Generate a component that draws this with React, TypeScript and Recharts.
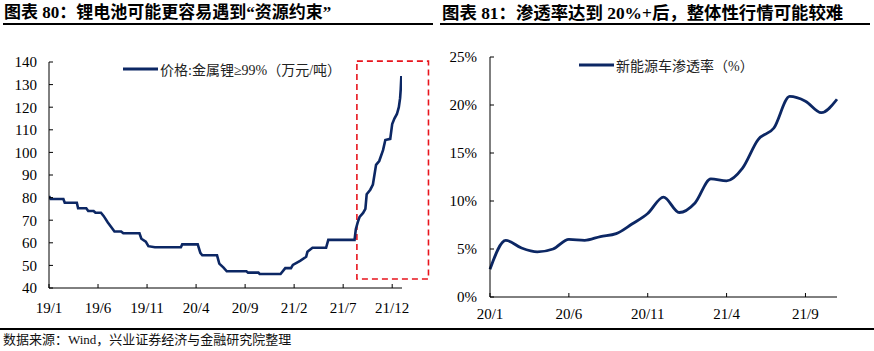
import React from 'react';
import { LineChart, Line, XAxis, YAxis, ReferenceArea } from 'recharts';

// ---------- Chart 80: lithium metal price (万元/吨) ----------
const priceDates = [
  '2019-01-01', '2019-01-06', '2019-02-14', '2019-02-18', '2019-03-27', '2019-03-31',
  '2019-04-25', '2019-05-01', '2019-05-18', '2019-05-24', '2019-06-10', '2019-06-18',
  '2019-07-01', '2019-07-22', '2019-08-12', '2019-08-19', '2019-10-08', '2019-10-14',
  '2019-10-28', '2019-11-05', '2019-11-25', '2020-02-14', '2020-02-18', '2020-04-06',
  '2020-04-14', '2020-04-20', '2020-06-05', '2020-06-12', '2020-06-25', '2020-07-05',
  '2020-09-05', '2020-09-10', '2020-10-12', '2020-10-16', '2020-12-20', '2021-01-04',
  '2021-01-22', '2021-01-28', '2021-02-18', '2021-03-08', '2021-03-12', '2021-03-28',
  '2021-05-09', '2021-05-16', '2021-08-06', '2021-08-10', '2021-08-16', '2021-08-22',
  '2021-09-02', '2021-09-09', '2021-09-13', '2021-09-24', '2021-10-02', '2021-10-12',
  '2021-10-22', '2021-11-03', '2021-11-10', '2021-11-25', '2021-12-01', '2021-12-08',
  '2021-12-16', '2021-12-22', '2021-12-26', '2021-12-28', '2021-12-30',
];
const priceValues = [
  80.7, 79.4, 79.4, 77.7, 77.7, 75.3,
  75.3, 74.1, 74.1, 73.3, 73.3, 71.9,
  69.0, 65.0, 65.0, 64.2, 64.2, 61.8,
  60.5, 58.5, 58.0, 58.0, 59.3, 59.3,
  55.5, 54.5, 54.5, 50.8, 49.0, 47.4,
  47.4, 46.8, 46.8, 46.2, 46.2, 48.8,
  48.8, 50.2, 52.0, 53.8, 56.0, 57.8,
  57.8, 61.3, 61.3, 66.0, 69.0, 71.5,
  73.2, 75.0, 81.5, 83.5, 85.8, 94.5,
  96.2, 101.0, 105.5, 106.0, 112.5, 115.0,
  117.0, 120.0, 124.0, 128.0, 133.8,
];
const priceTickLabels = ['19/1', '19/6', '19/11', '20/4', '20/9', '21/2', '21/7', '21/12'];
const priceYTicks = [40, 50, 60, 70, 80, 90, 100, 110, 120, 130, 140];
const priceLegend = '价格:金属锂≥99%（万元/吨）';

// ---------- Chart 81: NEV penetration (%) ----------
const penetrationMonths = [
  '20/1', '20/2', '20/3', '20/4', '20/5', '20/6', '20/7', '20/8', '20/9', '20/10', '20/11', '20/12',
  '21/1', '21/2', '21/3', '21/4', '21/5', '21/6', '21/7', '21/8', '21/9', '21/10', '21/11',
];
const penetrationValues = [
  2.9, 5.9, 5.1, 4.7, 5.0, 6.0, 5.9, 6.3, 6.6, 7.6, 8.7, 10.4,
  8.8, 9.8, 12.3, 12.1, 13.4, 16.4, 17.6, 20.9, 20.4, 19.2, 20.6,
];
const penetrationYTicks = [0, 5, 10, 15, 20, 25];
const penetrationLegend = '新能源车渗透率（%）';

const title80 = '图表 80：锂电池可能更容易遇到“资源约束”';
const title81 = '图表 81：渗透率达到 20%+后，整体性行情可能较难';
const sourceText = '数据来源：Wind，兴业证券经济与金融研究院整理';

const toMonthOffset = (s: string) => {
  const [y, m, d] = s.split('-').map(Number);
  const dim = new Date(y, m, 0).getDate();
  return (y - 2019) * 12 + (m - 1) + (d - 1) / dim;
};

const priceData = priceDates.map((d, i) => ({ t: toMonthOffset(d), v: priceValues[i] }));
const priceXTicks = priceTickLabels.map((_, i) => i * 5);
const penetrationData = penetrationMonths.map((m, i) => ({ i, v: penetrationValues[i] }));
const penetrationXTicks = [0, 5, 10, 15, 20];

const NAVY = '#0c2764';
const serif = "'Liberation Serif', 'Times New Roman', serif";
const cjk = "'Liberation Serif', 'Noto Sans CJK SC', serif";
const tickStyle = { fill: '#000', fontSize: 15, fontFamily: serif };

const LegendBox = ({ left, top, text }: { left: number; top: number; text: string }) => (
  <div style={{ position: 'absolute', left, top, display: 'flex', alignItems: 'center', height: 18 }}>
    <svg width={35} height={6} style={{ display: 'block' }}>
      <line x1={0} y1={3} x2={35} y2={3} stroke={NAVY} strokeWidth={3} />
    </svg>
    <span style={{ fontFamily: cjk, fontSize: 14, color: '#222', marginLeft: 2, whiteSpace: 'nowrap' }}>{text}</span>
  </div>
);

export default function App() {
  return (
    <div style={{ position: 'absolute', left: 0, top: 0, width: 874, height: 351, background: '#fff', overflow: 'hidden' }}>
      {/* Titles */}
      <div style={{ position: 'absolute', left: 4, top: 3, fontFamily: cjk, fontWeight: 'bold', fontSize: 17, whiteSpace: 'nowrap', lineHeight: '20px' }}>{title80}</div>
      <div style={{ position: 'absolute', left: 442, top: 3, fontFamily: cjk, fontWeight: 'bold', fontSize: 17.4, whiteSpace: 'nowrap', lineHeight: '20px' }}>{title81}</div>
      <div style={{ position: 'absolute', left: 3, top: 23, width: 430, height: 2, background: '#000' }} />
      <div style={{ position: 'absolute', left: 440, top: 23, width: 430, height: 2, background: '#000' }} />

      {/* Left chart */}
      <div style={{ position: 'absolute', left: 0, top: 40 }}>
        <LineChart width={430} height={280} data={priceData} margin={{ top: 22, right: 28, bottom: 7, left: 9 }}>
          <XAxis
            dataKey="t"
            type="number"
            domain={[0, 36]}
            ticks={priceXTicks}
            tickFormatter={(v: number) => priceTickLabels[Math.round(v / 5)]}
            allowDataOverflow
            axisLine={{ stroke: '#000' }}
            tickLine={{ stroke: '#000' }}
            tickSize={-4}
            tickMargin={18}
            height={25}
            tick={tickStyle}
            interval={0}
          />
          <YAxis
            type="number"
            domain={[40, 140]}
            ticks={priceYTicks}
            axisLine={{ stroke: '#000' }}
            tickLine={{ stroke: '#000' }}
            tickSize={-4}
            tickMargin={16}
            width={40}
            tick={tickStyle}
            interval={0}
          />
          <ReferenceArea
            x1={31.4}
            x2={38.7}
            y1={44}
            y2={140.4}
            ifOverflow="visible"
            fill="none"
            stroke="#e8141c"
            strokeWidth={1.6}
            strokeDasharray="6 4"
          />
          <Line type="linear" dataKey="v" stroke={NAVY} strokeWidth={2.6} dot={false} isAnimationActive={false} />
        </LineChart>
      </div>
      <LegendBox left={123} top={60} text={priceLegend} />

      {/* Right chart */}
      <div style={{ position: 'absolute', left: 430, top: 40 }}>
        <LineChart width={444} height={290} data={penetrationData} margin={{ top: 17, right: 37, bottom: 8, left: 15 }}>
          <XAxis
            dataKey="i"
            type="number"
            domain={[0, 22]}
            ticks={penetrationXTicks}
            tickFormatter={(v: number) => penetrationMonths[v]}
            axisLine={{ stroke: '#000' }}
            tickLine={{ stroke: '#000' }}
            tickSize={-4}
            tickMargin={15}
            height={25}
            tick={tickStyle}
            interval={0}
          />
          <YAxis
            type="number"
            domain={[0, 25]}
            ticks={penetrationYTicks}
            tickFormatter={(v: number) => `${v}%`}
            axisLine={{ stroke: '#000' }}
            tickLine={{ stroke: '#000' }}
            tickSize={-4}
            tickMargin={17}
            width={45}
            tick={tickStyle}
            interval={0}
          />
          <Line type="monotone" dataKey="v" stroke={NAVY} strokeWidth={2.8} dot={false} isAnimationActive={false} />
        </LineChart>
      </div>
      <LegendBox left={579} top={56} text={penetrationLegend} />

      {/* Footer */}
      <div style={{ position: 'absolute', left: 0, top: 328, width: 874, height: 1.5, background: '#000' }} />
      <div style={{ position: 'absolute', left: 3, top: 331, fontFamily: cjk, fontSize: 13, whiteSpace: 'nowrap', lineHeight: '18px', color: '#111' }}>{sourceText}</div>
    </div>
  );
}
